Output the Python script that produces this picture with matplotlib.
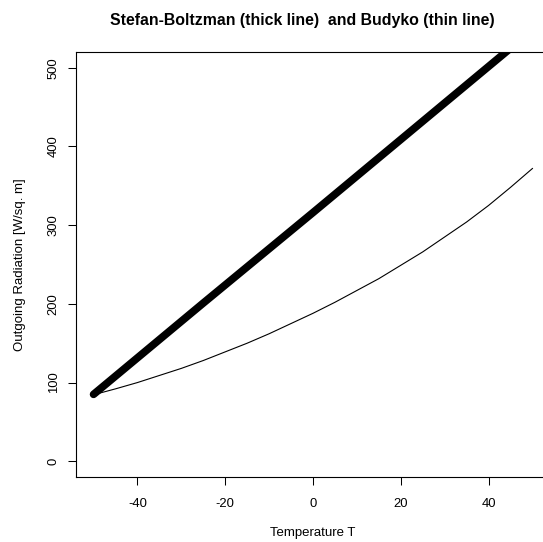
import matplotlib.pyplot as plt

# values
temp_thin = [-50, -45, -40, -35, -30, -25, -20, -15, -10, -5, 0,
             5, 10, 15, 20, 25, 30, 35, 40, 45, 50]
budyko = [84.5, 92, 100, 109, 118, 128, 139, 150, 162, 175, 188,
          202, 217, 232, 249, 266, 285, 304, 325, 348, 372]

temp_thick = [-50, -25, 0, 25, 50]
stefan = [85, 201, 316, 432, 548]

x_ticks = [-40, -20, 0, 20, 40]
y_ticks = [0, 100, 200, 300, 400, 500]

W, H = 543, 542
plt.rcParams["font.family"] = ["Liberation Sans", "DejaVu Sans"]

fig = plt.figure(figsize=(W / 100, H / 100), dpi=100)
left, right, top, bottom = 76, 550, 52, 477
ax = fig.add_axes([left / W, 1 - bottom / H, (right - left) / W, (bottom - top) / H])

ax.plot(temp_thick, stefan, color="black", lw=5.5, solid_capstyle="round")
ax.plot(temp_thin, budyko, color="black", lw=0.8)

ax.set_xlim(-54, 54)
ax.set_ylim(-20, 520)
ax.set_xticks(x_ticks)
ax.set_yticks(y_ticks)
ax.set_xticklabels([str(v) for v in x_ticks])
ax.set_yticklabels([str(v) for v in y_ticks], rotation=90, va="center")
ax.tick_params(direction="out", length=5.8, width=0.75, labelsize=9.4, pad=9)
ax.tick_params(axis="y", pad=6)
for s in ax.spines.values():
    s.set_linewidth(0.8)
ax.spines["right"].set_visible(False)

fig.text(20 / W, 1 - 265 / H, "Outgoing Radiation [W/sq. m]", rotation=90,
         ha="center", va="center", fontsize=9.5)
fig.text(313 / W, 1 - 533 / H, "Temperature T", ha="center", va="center", fontsize=9.5)
fig.text(302 / W, 1 - 21 / H, "Stefan-Boltzman (thick line)  and Budyko (thin line)",
         ha="center", va="center", fontsize=11.4, fontweight="bold")

fig.savefig("out.png", dpi=100)
